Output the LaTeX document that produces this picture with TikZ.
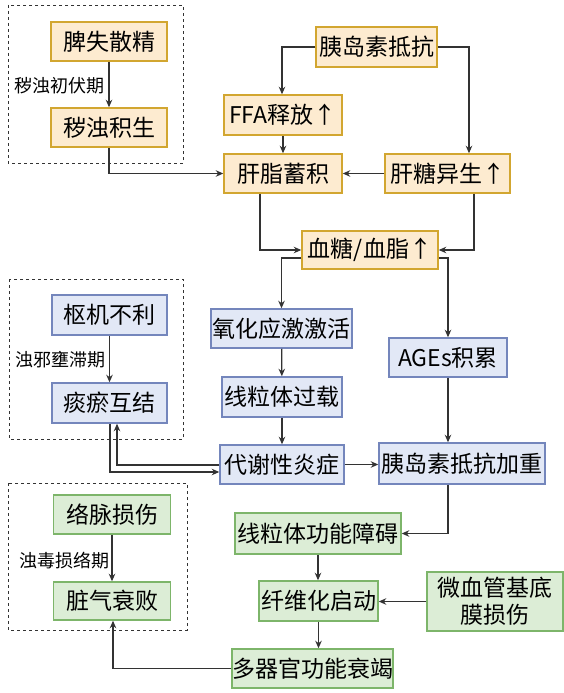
\documentclass[tikz,border=0pt]{standalone}
\usepackage{fontspec}
\newfontfamily\cjk{Noto Sans CJK SC}
\usetikzlibrary{arrows.meta}
\definecolor{yfill}{HTML}{FDEBD0}
\definecolor{ydraw}{HTML}{D2A630}
\definecolor{bfill}{HTML}{E2E8F6}
\definecolor{bdraw}{HTML}{7486BC}
\definecolor{gfill}{HTML}{DCEDD6}
\definecolor{gdraw}{HTML}{7DB56A}
\definecolor{lncol}{HTML}{333333}
\begin{document}
\begin{tikzpicture}[x=1pt,y=-1pt,
  box/.style={draw, line width=1.5pt, inner sep=0pt, align=center,
    font=\cjk\fontsize{23}{26}\selectfont},
  ybox/.style={box, fill=yfill, draw=ydraw},
  bbox/.style={box, fill=bfill, draw=bdraw},
  gbox/.style={box, fill=gfill, draw=gdraw},
  lbl/.style={anchor=east, inner sep=0pt, font=\cjk\fontsize{18}{21}\selectfont},
  arr/.style={draw=lncol, line width=1.2pt, -{Stealth[length=7.5pt,width=6.5pt]}},
  dbox/.style={draw=black!80, line width=0.9pt, dashed}
]
\useasboundingbox (0,0) rectangle (564,693);
\fill[white] (0,0) rectangle (564,693);

% dashed groups
\draw[dbox] (8,5) rectangle (183,163);
\draw[dbox] (9,279) rectangle (183,439);
\draw[dbox] (8,483) rectangle (187,630);

% yellow nodes
\node[ybox, minimum width=116pt, minimum height=39pt] (pj) at (109,41.5) {脾失散精};
\node[ybox, minimum width=116pt, minimum height=39pt] (hz) at (109,127.5) {秽浊积生};
\node[ybox, minimum width=121pt, minimum height=40pt] (jyd) at (376.5,47) {胰岛素抵抗};
\node[ybox, minimum width=118pt, minimum height=40pt] (ffa) at (283,115) {FFA释放↑};
\node[ybox, minimum width=118pt, minimum height=39pt] (gz) at (283,173.5) {肝脂蓄积};
\node[ybox, minimum width=125pt, minimum height=39pt] (gty) at (447.5,173.5) {肝糖异生↑};
\node[ybox, minimum width=136pt, minimum height=38pt] (xt) at (370,250) {血糖/血脂↑};

% blue nodes
\node[bbox, minimum width=115pt, minimum height=40pt] (sj) at (109.5,315) {枢机不利};
\node[bbox, minimum width=115pt, minimum height=40pt] (ty) at (109.5,403) {痰瘀互结};
\node[bbox, minimum width=141pt, minimum height=39pt] (yh) at (281.5,328.5) {氧化应激激活};
\node[bbox, minimum width=120pt, minimum height=40pt] (xl) at (282,397) {线粒体过载};
\node[bbox, minimum width=124pt, minimum height=39pt] (dx) at (282,464.5) {代谢性炎症};
\node[bbox, minimum width=118pt, minimum height=39pt] (ages) at (448,357.5) {AGEs积累};
\node[bbox, minimum width=166pt, minimum height=41pt] (jz) at (462,463.5) {胰岛素抵抗加重};

% green nodes
\node[gbox, minimum width=117pt, minimum height=39pt] (lm) at (112,514.5) {络脉损伤};
\node[gbox, minimum width=117pt, minimum height=38pt] (zq) at (112,601) {脏气衰败};
\node[gbox, minimum width=166pt, minimum height=41pt] (xg) at (318,533.5) {线粒体功能障碍};
\node[gbox, minimum width=119pt, minimum height=40pt] (xw) at (318.5,601) {纤维化启动};
\node[gbox, minimum width=161pt, minimum height=39pt] (dq) at (312.5,668.5) {多器官功能衰竭};
\node[gbox, minimum width=136pt, minimum height=59pt, font=\cjk\fontsize{23}{27}\selectfont] (wx) at (495,601.5) {微血管基底\\膜损伤};

% stage labels
\node[lbl] (l1) at (105,86) {秽浊初伏期};
\node[lbl] (l2) at (106,360) {浊邪壅滞期};
\node[lbl] (l3) at (110,561) {浊毒损络期};

% connectors
\draw[arr] (pj) -- (hz);
\draw[arr] (sj) -- (ty);
\draw[arr] (lm) -- (zq);
\draw[arr] (jyd.west) -| ([xshift=-1pt]ffa.north);
\draw[arr] (jyd.east) -| ([xshift=21.5pt]gty.north);
\draw[arr] (ffa) -- (gz);
\draw[arr] (hz.south) |- (gz.west);
\draw[arr] (gty.west) -- (gz.east);
\draw[arr] ([xshift=-23pt]gz.south) |- (xt.west);
\draw[arr] ([xshift=26.5pt]gty.south) |- (xt.east);
\draw[arr] ([yshift=-8pt]xt.west) -| (yh.north);
\draw[arr] ([yshift=-8pt]xt.east) -| (ages.north);
\draw[arr] (yh) -- (xl);
\draw[arr] (xl) -- (dx);
\draw[arr] (ages.south) -- (ages.south |- jz.north);
\draw[arr] (dx.east) -- (dx.east -| jz.west);
\draw[arr] ([yshift=-0.5pt]dx.west) -| ([xshift=7.5pt]ty.south);
\draw[arr] ([xshift=0.5pt]ty.south) |- ([yshift=-7.5pt]dx.west);
\draw[arr] ([xshift=-14pt]jz.south) |- (xg.east);
\draw[arr] (xg) -- (xg.south |- xw.north);
\draw[arr] (xw.south) -- (xw.south |- dq.north);
\draw[arr] (wx.west) -- (wx.west -| xw.east);
\draw[arr] (dq.west) -| ([xshift=1pt]zq.south);
\end{tikzpicture}
\end{document}
